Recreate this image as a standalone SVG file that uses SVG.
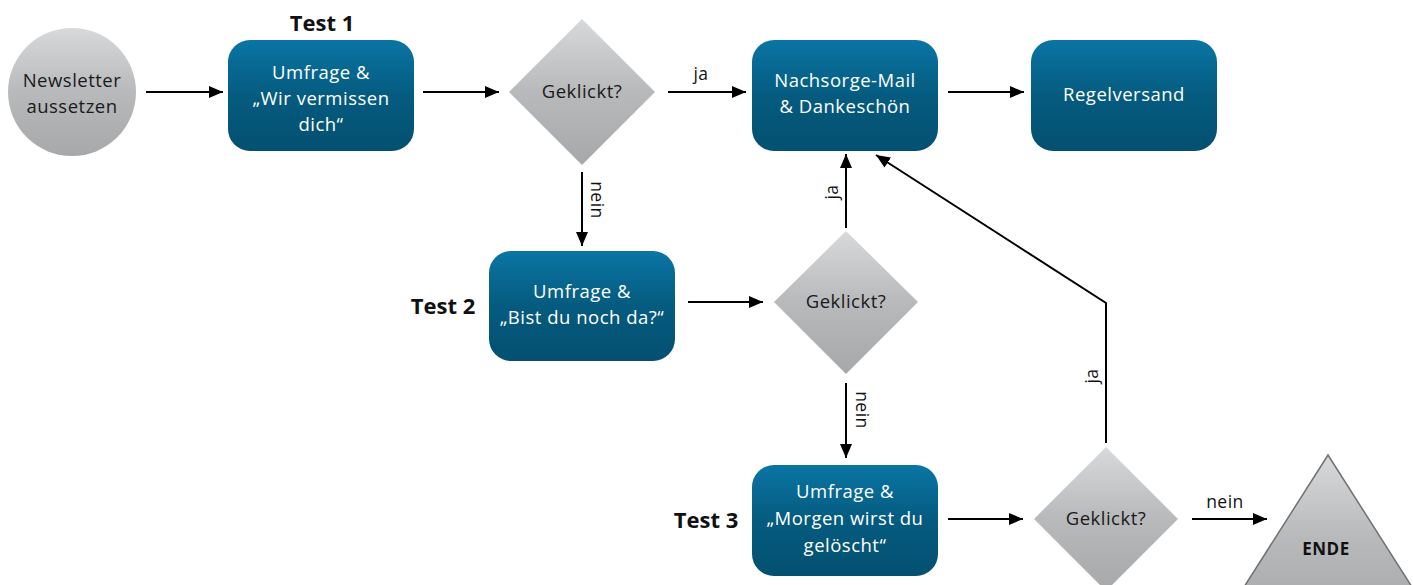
<svg xmlns="http://www.w3.org/2000/svg" width="1413" height="585" viewBox="0 0 1413 585">
  <style>
    .box { fill: url(#boxGrad); }
    .dia { fill: url(#grayGrad); }
    .btxt { font-family: "Open Sans", "Liberation Sans", sans-serif; font-size: 18.5px; letter-spacing: 0.5px; fill: #ffffff; text-anchor: middle; }
    .gtxt { font-family: "Open Sans", "Liberation Sans", sans-serif; font-size: 18.5px; letter-spacing: 0.5px; fill: #1a1a1a; text-anchor: middle; }
    .lbl { font-family: "Open Sans", "Liberation Sans", sans-serif; font-size: 17.5px; letter-spacing: 0.5px; fill: #111111; text-anchor: middle; }
    .test { font-family: "Open Sans", "Liberation Sans", sans-serif; font-size: 22px; font-weight: bold; fill: #111111; text-anchor: middle; }
    .conn { stroke: #000000; stroke-width: 2; fill: none; marker-end: url(#arrow); }
  </style>
  <defs>
    <linearGradient id="boxGrad" x1="0" y1="0" x2="0" y2="1">
      <stop offset="0" stop-color="#0a75a4"/>
      <stop offset="0.5" stop-color="#055b7f"/>
      <stop offset="1" stop-color="#045070"/>
    </linearGradient>
    <linearGradient id="grayGrad" x1="0" y1="0" x2="0" y2="1">
      <stop offset="0" stop-color="#d8d9db"/>
      <stop offset="0.5" stop-color="#b8b9bb"/>
      <stop offset="1" stop-color="#a7a8aa"/>
    </linearGradient>
    <marker id="arrow" viewBox="0 0 14 12" refX="14" refY="6" markerWidth="14" markerHeight="12" markerUnits="userSpaceOnUse" orient="auto">
      <path d="M0,0 L14,6 L0,12 Z" fill="#000000"/>
    </marker>
  </defs>

  <!-- connectors -->
  <g id="connectors">
    <line class="conn" x1="146" y1="92" x2="223" y2="92"/>
    <line class="conn" x1="423" y1="92" x2="499" y2="92"/>
    <line class="conn" x1="668" y1="92" x2="746" y2="92"/>
    <line class="conn" x1="948" y1="92" x2="1024" y2="92"/>
    <line class="conn" x1="582" y1="172" x2="582" y2="246"/>
    <line class="conn" x1="688" y1="302" x2="763" y2="302"/>
    <line class="conn" x1="846" y1="228" x2="846" y2="154"/>
    <line class="conn" x1="846" y1="383" x2="846" y2="458"/>
    <line class="conn" x1="948" y1="519" x2="1023" y2="519"/>
    <polyline class="conn" points="1106,443 1106,303 876,155"/>
    <line class="conn" x1="1192" y1="519" x2="1267" y2="519"/>
    <text class="lbl" x="701" y="80">ja</text>
    <text class="lbl" transform="translate(591,200) rotate(90)">nein</text>
    <text class="lbl" transform="translate(838,192) rotate(-90)">ja</text>
    <text class="lbl" transform="translate(856,410) rotate(90)">nein</text>
    <text class="lbl" transform="translate(1098,376) rotate(-90)">ja</text>
    <text class="lbl" x="1225" y="508">nein</text>
  </g>

  <!-- start -->
  <g id="start">
    <circle cx="72" cy="92" r="64" class="dia"/>
    <text class="gtxt" x="72" y="87">Newsletter</text>
    <text class="gtxt" x="72" y="113">aussetzen</text>
  </g>

  <!-- test 1 -->
  <g id="test1">
    <text class="test" x="322" y="31">Test 1</text>
    <rect class="box" x="228" y="40" width="186" height="111" rx="22"/>
    <text class="btxt" x="321" y="79">Umfrage &amp;</text>
    <text class="btxt" x="321" y="105">„Wir vermissen</text>
    <text class="btxt" x="321" y="131">dich“</text>
  </g>

  <g id="decision1">
    <polygon class="dia" points="582,19 655,92 582,165 509,92"/>
    <text class="gtxt" x="582" y="98">Geklickt?</text>
  </g>

  <g id="followup">
    <rect class="box" x="752" y="40" width="186" height="111" rx="22"/>
    <text class="btxt" x="845" y="87">Nachsorge-Mail</text>
    <text class="btxt" x="845" y="113">&amp; Dankeschön</text>
  </g>

  <g id="regular">
    <rect class="box" x="1031" y="40" width="186" height="111" rx="22"/>
    <text class="btxt" x="1124" y="101">Regelversand</text>
  </g>

  <!-- test 2 -->
  <g id="test2">
    <text class="test" x="443" y="314">Test 2</text>
    <rect class="box" x="489" y="251" width="186" height="110" rx="22"/>
    <text class="btxt" x="582" y="298">Umfrage &amp;</text>
    <text class="btxt" x="582" y="324">„Bist du noch da?“</text>
  </g>

  <g id="decision2">
    <polygon class="dia" points="846,231 918,302 846,374 774,302"/>
    <text class="gtxt" x="846" y="308">Geklickt?</text>
  </g>

  <!-- test 3 -->
  <g id="test3">
    <text class="test" x="706" y="528">Test 3</text>
    <rect class="box" x="752" y="465" width="186" height="111" rx="22"/>
    <text class="btxt" x="845" y="498">Umfrage &amp;</text>
    <text class="btxt" x="845" y="525">„Morgen wirst du</text>
    <text class="btxt" x="845" y="552">gelöscht“</text>
  </g>

  <g id="decision3">
    <polygon class="dia" points="1106,447 1178,519 1106,591 1034,519"/>
    <text class="gtxt" x="1106" y="525">Geklickt?</text>
  </g>

  <g id="end">
    <polygon points="1328,455 1433,620 1223,620" fill="url(#grayGrad)" stroke="#6f7072" stroke-width="1.5"/>
    <text x="1326" y="555" font-family="'Open Sans', 'Liberation Sans', sans-serif" font-size="17" font-weight="bold" letter-spacing="0.5" fill="#111111" text-anchor="middle">ENDE</text>
  </g>
</svg>
